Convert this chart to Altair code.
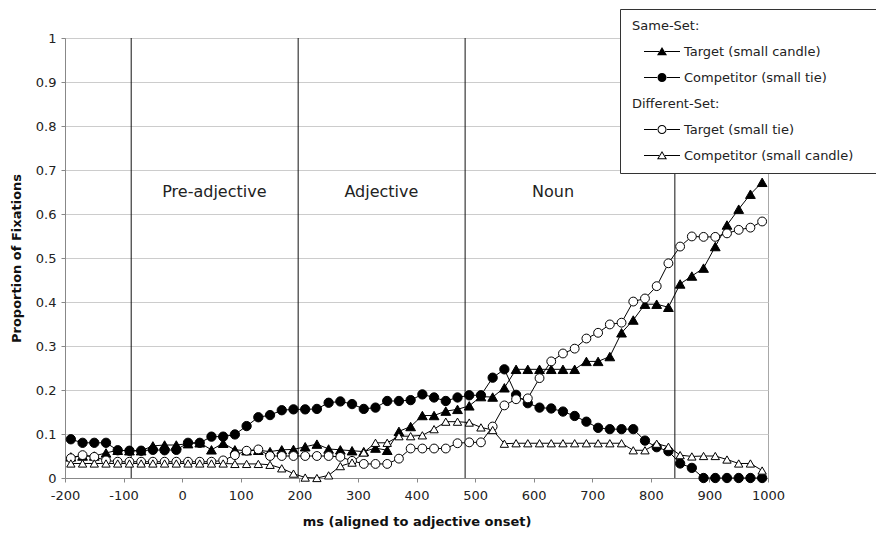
import math
import altair as alt
import pandas as pd

# Time bins: centre of each 20 ms bin, relative to adjective onset
time_ms = list(range(-190, 1000, 20))

same_target = [
    0.048, 0.050, 0.050, 0.057, 0.063, 0.062, 0.062, 0.073, 0.075, 0.075,
    0.078, 0.080, 0.064, 0.079, 0.064, 0.062, 0.063, 0.060, 0.064, 0.065,
    0.071, 0.077, 0.066, 0.064, 0.062, 0.060, 0.068, 0.063, 0.106, 0.117,
    0.142, 0.142, 0.152, 0.156, 0.164, 0.185, 0.184, 0.205, 0.247, 0.247,
    0.247, 0.247, 0.247, 0.247, 0.265, 0.265, 0.276, 0.330, 0.359, 0.395,
    0.395, 0.388, 0.441, 0.459, 0.477, 0.526, 0.575, 0.611, 0.645, 0.672,
]
same_competitor = [
    0.088, 0.080, 0.080, 0.080, 0.063, 0.062, 0.062, 0.064, 0.063, 0.064,
    0.080, 0.080, 0.094, 0.094, 0.099, 0.118, 0.138, 0.143, 0.154, 0.156,
    0.156, 0.157, 0.171, 0.174, 0.168, 0.157, 0.160, 0.175, 0.175, 0.177,
    0.190, 0.183, 0.175, 0.183, 0.188, 0.188, 0.228, 0.247, 0.189, 0.170,
    0.160, 0.158, 0.151, 0.141, 0.128, 0.114, 0.111, 0.111, 0.111, 0.085,
    0.070, 0.061, 0.033, 0.023, 0.000, 0.000, 0.000, 0.000, 0.000, 0.000,
]
diff_target = [
    0.045, 0.052, 0.048, 0.040, 0.037, 0.037, 0.037, 0.037, 0.037, 0.037,
    0.037, 0.037, 0.037, 0.040, 0.052, 0.062, 0.065, 0.050, 0.050, 0.050,
    0.050, 0.050, 0.050, 0.048, 0.039, 0.032, 0.032, 0.032, 0.044, 0.067,
    0.067, 0.067, 0.067, 0.079, 0.081, 0.081, 0.117, 0.165, 0.179, 0.181,
    0.227, 0.265, 0.283, 0.294, 0.317, 0.330, 0.349, 0.353, 0.401, 0.408,
    0.436, 0.488, 0.526, 0.549, 0.548, 0.548, 0.556, 0.564, 0.569, 0.583,
]
diff_competitor = [
    0.033, 0.033, 0.033, 0.033, 0.033, 0.033, 0.033, 0.033, 0.033, 0.033,
    0.033, 0.033, 0.033, 0.033, 0.032, 0.032, 0.032, 0.030, 0.022, 0.010,
    0.001, 0.000, 0.006, 0.027, 0.035, 0.058, 0.080, 0.080, 0.095, 0.095,
    0.097, 0.111, 0.128, 0.128, 0.126, 0.115, 0.109, 0.078, 0.079, 0.079,
    0.079, 0.079, 0.079, 0.079, 0.079, 0.079, 0.079, 0.079, 0.063, 0.063,
    0.078, 0.071, 0.052, 0.049, 0.050, 0.050, 0.042, 0.033, 0.033, 0.017,
]

series_names = [
    "Same-Set Target",
    "Same-Set Competitor",
    "Different-Set Target",
    "Different-Set Competitor",
]
series_values = [same_target, same_competitor, diff_target, diff_competitor]
series_shapes = ["triangle-up", "circle", "circle", "triangle-up"]
series_fills = ["black", "black", "white", "white"]
series_sizes = [95, 70, 70, 95]

# Region boundaries (ms) and region labels
boundaries_ms = [-87, 198, 483, 841]
region_names = ["Pre-adjective", "Adjective", "Noun"]
region_label_ms = [55, 340, 633]
region_label_y = [0.65, 0.65, 0.65]

x_ticks = [-200, -100, 0, 100, 200, 300, 400, 500, 600, 700, 800, 900, 1000]
y_ticks = [0, 0.1, 0.2, 0.3, 0.4, 0.5, 0.6, 0.7, 0.8, 0.9, 1]

# Legend rows: group headings and indented series entries.  Em spaces give
# the indent; a zero-width space at each end keeps them from being trimmed.
EM = "\u2003"
ZW = "\u200b"
INDENT = ZW + EM * 4
TAIL = EM + ZW
legend_entries = [
    "Same-Set:" + TAIL,
    INDENT + "Target (small candle)" + TAIL,
    INDENT + "Competitor (small tie)" + TAIL,
    "Different-Set:" + TAIL,
    INDENT + "Target (small tie)" + TAIL,
    INDENT + "Competitor (small candle)" + TAIL,
]
legend_kinds = ["none", "tri_filled", "circ_filled", "none", "circ_open", "tri_open"]

FONT = "DejaVu Sans"

rows = []
for order, (name, vals) in enumerate(zip(series_names, series_values)):
    for t, v in zip(time_ms, vals):
        rows.append({"series": name, "ms": t, "value": v, "order": order})
df = pd.DataFrame(rows)

x_enc = alt.X(
    "ms:Q",
    scale=alt.Scale(domain=[-200, 1000], nice=False, zero=False),
    axis=alt.Axis(
        values=x_ticks,
        labelExpr="'' + datum.value",
        labelFlush=False,
        title="ms (aligned to adjective onset)",
        grid=False,
        tickSize=4,
        labelPadding=7,
        titlePadding=13,
    ),
)
y_enc = alt.Y(
    "value:Q",
    scale=alt.Scale(domain=[0, 1], nice=False),
    axis=alt.Axis(
        values=y_ticks,
        format="~g",
        labelFlush=False,
        title="Proportion of Fixations",
        grid=True,
        tickSize=4,
        labelPadding=5,
        titlePadding=12,
    ),
)

base = alt.Chart(df)

lines = base.mark_line(color="black", strokeWidth=1).encode(
    x=x_enc,
    y=y_enc,
    detail="series:N",
)

points = base.mark_point(opacity=1, stroke="black", strokeWidth=1).encode(
    x="ms:Q",
    y="value:Q",
    shape=alt.Shape(
        "series:N",
        scale=alt.Scale(domain=series_names, range=series_shapes),
        legend=None,
    ),
    fill=alt.Fill(
        "series:N",
        scale=alt.Scale(domain=series_names, range=series_fills),
        legend=None,
    ),
    size=alt.Size(
        "series:N",
        scale=alt.Scale(domain=series_names, range=series_sizes),
        legend=None,
    ),
    order=alt.Order("order:Q"),
)

rules = (
    alt.Chart(pd.DataFrame({"ms": boundaries_ms}))
    .mark_rule(color="#111", strokeWidth=1)
    .encode(x="ms:Q", y=alt.datum(0), y2=alt.datum(1))
)

region_text = (
    alt.Chart(
        pd.DataFrame(
            {"name": region_names, "ms": region_label_ms, "value": region_label_y}
        )
    )
    .mark_text(font=FONT, fontSize=16, color="#222", align="center", baseline="middle")
    .encode(x="ms:Q", y="value:Q", text="name:N")
)


# Legend glyphs are fill-only paths (1 unit = 1 px at symbol size 4): a thin
# bar on each side of the marker; open markers are rings (inner contour
# wound the other way so it is left empty).
def f(v):
    return f"{v:.2f}"


def bar(x0, x1, h=0.5):
    return f"M{f(x0)},{f(-h)}H{f(x1)}V{f(h)}H{f(x0)}Z"


def circle_path(cx, r, sweep):
    return (
        f"M{f(cx - r)},0A{f(r)},{f(r)} 0 1,{sweep} {f(cx + r)},0"
        f"A{f(r)},{f(r)} 0 1,{sweep} {f(cx - r)},0Z"
    )


def tri_points(cx, w, top, bottom):
    return [(cx, top), (cx + w, bottom), (cx - w, bottom)]


def tri_path(pts):
    (ax, ay), (bx, by), (cx_, cy) = pts
    return f"M{f(ax)},{f(ay)}L{f(bx)},{f(by)}L{f(cx_)},{f(cy)}Z"


def inset(pts, d):
    # shrink a triangle toward its incentre by distance d
    (ax, ay), (bx, by), (cx_, cy) = pts
    a = math.dist((bx, by), (cx_, cy))
    b = math.dist((ax, ay), (cx_, cy))
    c = math.dist((ax, ay), (bx, by))
    p = a + b + c
    ix = (a * ax + b * bx + c * cx_) / p
    iy = (a * ay + b * by + c * cy) / p
    area = abs((bx - ax) * (cy - ay) - (cx_ - ax) * (by - ay)) / 2
    r_in = 2 * area / p
    k = 1 - d / r_in
    return [(ix + (x - ix) * k, iy + (y - iy) * k) for x, y in pts]


SYM_SIZE = 4
SYM_SHIFT = -11  # pulls labels left so headings sit near the box edge
LINE_L, LINE_R, MX = 18.5, 54.5, 36.5
R_OUT, RING = 4.5, 1.0
TRI_W, TRI_TOP, TRI_BOT = 5.0, -4.6, 3.8

outer_tri = tri_points(MX, TRI_W, TRI_TOP, TRI_BOT)
inner_tri = inset(outer_tri, RING)
inner_tri_rev = [inner_tri[0], inner_tri[2], inner_tri[1]]

glyphs = {
    "none": "M0,0",
    "tri_filled": bar(LINE_L, MX - 3) + bar(MX + 3, LINE_R) + tri_path(outer_tri),
    "circ_filled": bar(LINE_L, MX - R_OUT + 0.5) + bar(MX + R_OUT - 0.5, LINE_R)
    + circle_path(MX, R_OUT, 0),
    "circ_open": bar(LINE_L, MX - R_OUT + 0.5) + bar(MX + R_OUT - 0.5, LINE_R)
    + circle_path(MX, R_OUT, 0) + circle_path(MX, R_OUT - RING, 1),
    "tri_open": bar(LINE_L, MX - 3) + bar(MX + 3, LINE_R)
    + tri_path(outer_tri) + tri_path(inner_tri_rev),
}
legend_shapes = [glyphs[k] for k in legend_kinds]

legend_def = alt.Legend(
    title=None,
    orient="none",
    legendX=555,
    legendY=-29,
    padding=10,
    strokeColor="#333",
    fillColor="white",
    labelFont=FONT,
    labelFontSize=13,
    labelColor="#222",
    labelLimit=500,
    labelOffset=0,
    rowPadding=12,
    symbolSize=SYM_SIZE,
    symbolOffset=SYM_SHIFT,
    symbolStrokeWidth=0,
    symbolFillColor="black",
)

legend_layer = (
    alt.Chart(pd.DataFrame({"entry": legend_entries, "ms": 0, "value": 0}))
    .transform_filter("false")
    .mark_point(opacity=1, filled=True, color="black", size=SYM_SIZE, strokeWidth=0)
    .encode(
        x="ms:Q",
        y="value:Q",
        shape=alt.Shape(
            "entry:N",
            scale=alt.Scale(domain=legend_entries, range=legend_shapes),
            legend=legend_def,
        ),
    )
)

chart = (
    alt.layer(rules, lines, points, region_text, legend_layer)
    .resolve_scale(shape="independent", fill="independent", size="independent")
    .properties(
        width=703,
        height=440,
        autosize=alt.AutoSizeParams(type="none"),
        padding={"left": 65, "top": 38, "right": 108, "bottom": 58},
        background="white",
    )
    .configure_view(stroke="#a8a8a8", strokeWidth=1)
    .configure_axis(
        labelFont=FONT,
        labelFontSize=13,
        labelColor="#222",
        titleFont=FONT,
        titleFontSize=13,
        titleFontWeight="bold",
        titleColor="#111",
        domainColor="#888",
        tickColor="#888",
        gridColor="#cccccc",
        gridWidth=1,
    )
)

chart.save("out.html", embed_options={"renderer": "svg", "actions": False})
